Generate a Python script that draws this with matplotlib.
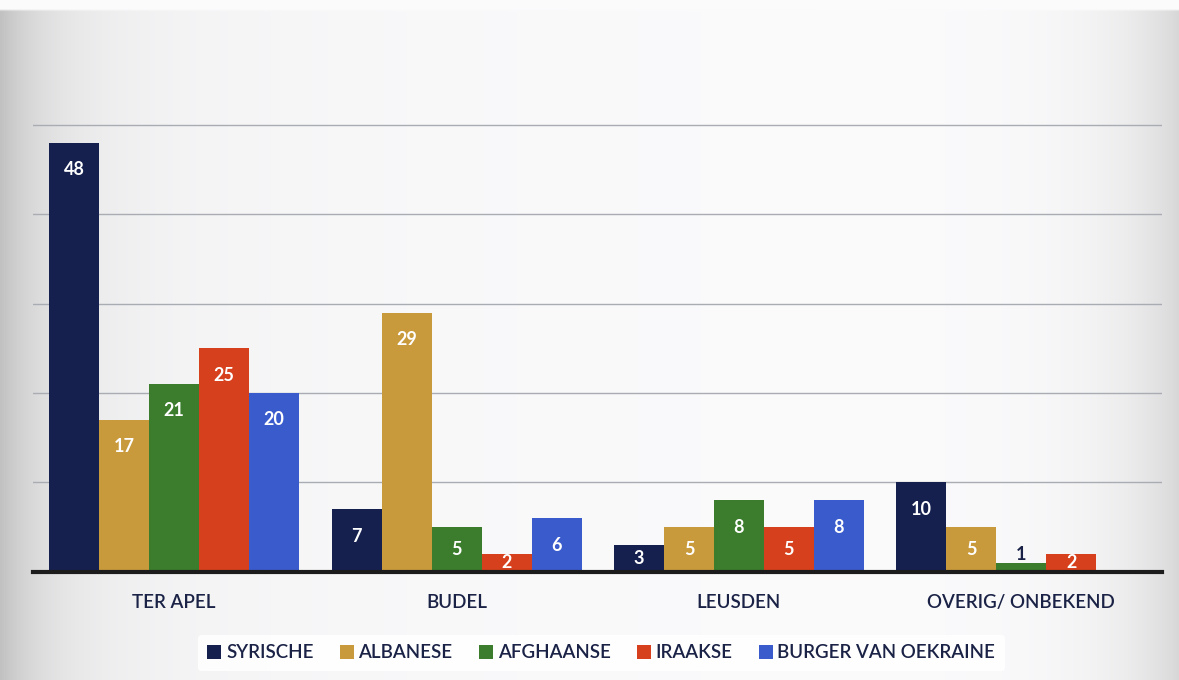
import numpy as np
import matplotlib
matplotlib.use("Agg")
import matplotlib.pyplot as plt
from matplotlib.patches import Patch

categories = ["TER APEL", "BUDEL", "LEUSDEN", "OVERIG/ ONBEKEND"]
series_names = ["SYRISCHE", "ALBANESE", "AFGHAANSE", "IRAAKSE", "BURGER VAN OEKRAINE"]
syrische = [48, 7, 3, 10]
albanese = [17, 29, 5, 5]
afghaanse = [21, 5, 8, 1]
iraakse = [25, 2, 5, 2]
oekraine = [20, 6, 8, 0]
series_values = [syrische, albanese, afghaanse, iraakse, oekraine]
colors = ["#15204f", "#c99a3c", "#3b7d2c", "#d6401c", "#3a5bcc"]

plt.rcParams['font.family'] = ['Lato', 'DejaVu Sans']
navy = "#1a2246"

fig = plt.figure(figsize=(11.79, 6.8), dpi=100)

# background gradient
bg = fig.add_axes([0, 0, 1, 1], zorder=-10)
xs = np.linspace(0, 1, 600)
g = 1 - 0.18 * np.exp(-xs / 0.04) - 0.14 * np.exp(-(1 - xs) / 0.05) - 0.05 * np.exp(-xs / 0.25)
img = np.tile(g, (200, 1))
img[:3, :] = 1.0
rgb = np.dstack([img * 0.985, img * 0.985, img * 0.99])
rgb = np.clip(rgb, 0, 1)
bg.imshow(rgb, aspect='auto', extent=[0, 1, 0, 1], origin='upper')
bg.set_axis_off()

ax = fig.add_axes([0.028, 0.159, 0.958, 0.789])
ax.patch.set_alpha(0)
n = len(series_names)
width = 0.177
x = np.arange(len(categories))
ymax = 60
for i, (name, vals, c) in enumerate(zip(series_names, series_values, colors)):
    pos = x + (i - (n - 1) / 2) * width
    ax.bar(pos, vals, width=width, color=c, label=name, zorder=3)
    for p, v in zip(pos, vals):
        if v <= 0:
            continue
        if v <= 1:
            ax.text(p, v + 0.9, str(v), ha='center', va='center', color=navy,
                    fontsize=13, fontweight='bold', zorder=4)
        else:
            yy = max(v - 3.0, v / 2)
            ax.text(p, yy, str(v), ha='center', va='center', color='white',
                    fontsize=13, fontweight='bold', zorder=4)

ax.set_xlim(-0.5, 3.5)
ax.set_ylim(0, ymax)
ax.set_yticks([10, 20, 30, 40, 50])
ax.yaxis.grid(True, color='#a9acb3', linewidth=1.0, zorder=0)
ax.tick_params(axis='y', length=0, labelleft=False)
ax.set_xticks(x)
ax.set_xticklabels(categories, fontsize=13.5, color=navy, fontweight='semibold')
ax.tick_params(axis='x', length=0, pad=16)
for s in ['top', 'right', 'left']:
    ax.spines[s].set_visible(False)
ax.spines['bottom'].set_color('#1c1c1c')
ax.spines['bottom'].set_linewidth(3)
ax.spines['bottom'].set_zorder(5)

handles = [Patch(facecolor=c, edgecolor='none') for c in colors]
leg = fig.legend(handles, series_names, loc='center', bbox_to_anchor=(0.51, 0.04),
                 ncol=5, frameon=True, fontsize=13.5, handlelength=0.75, handleheight=0.75,
                 handletextpad=0.25, columnspacing=1.4, borderpad=0.5)
leg.get_frame().set_facecolor('white')
leg.get_frame().set_edgecolor('none')
leg.get_frame().set_alpha(0.9)
for t in leg.get_texts():
    t.set_color(navy)
    t.set_fontweight('semibold')

fig.savefig("out.png", dpi=100)
